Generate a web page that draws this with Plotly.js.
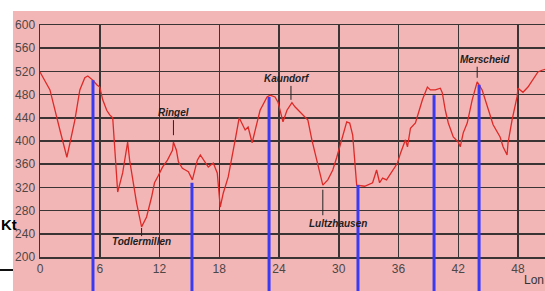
<!DOCTYPE html>
<html>
<head>
<meta charset="utf-8">
<script src="https://cdn.plot.ly/plotly-3.0.1.min.js"></script>
<style>
  html, body { margin: 0; padding: 0; background: #ffffff; overflow: hidden; }
  #chart { width: 545px; height: 291px; }
</style>
</head>
<body>
<div id="chart"></div>
<script>
// Elevation profile: distance (km) and elevation (m)
const dist = [0.0,1.0,2.0,2.7,3.5,4.0,4.5,4.8,5.3,5.7,6.0,6.3,6.7,7.0,7.3,7.8,8.3,8.7,8.8,9.0,9.3,9.7,10.2,10.7,11.2,11.5,11.9,12.3,12.8,13.3,13.4,13.7,13.9,14.3,14.6,14.9,15.3,15.8,16.1,16.6,16.9,17.4,17.8,18.1,18.4,18.9,19.3,19.6,20.0,20.6,20.9,21.3,22.1,22.8,23.1,23.6,23.9,24.4,24.8,25.3,25.6,26.1,26.6,26.9,27.3,27.9,28.4,28.9,29.4,29.8,30.1,30.3,30.8,31.1,31.4,31.8,32.6,33.4,33.8,34.1,34.4,34.8,35.4,35.9,36.2,36.7,36.9,37.2,37.7,38.0,38.4,38.9,39.2,39.7,40.2,40.4,40.7,41.0,41.5,42.0,42.2,42.5,42.9,43.4,43.7,43.9,44.4,44.7,45.0,45.5,46.2,46.5,46.9,47.0,47.4,47.9,48.0,48.5,49.0,49.5,50.0,50.4,50.8];
const elev = [519,488,419,372,436,488,509,512,505,497,493,471,453,445,440,312,345,384,398,367,338,293,252,269,303,328,341,355,367,384,398,384,364,353,350,347,333,367,376,362,355,362,345,286,310,338,372,402,440,419,424,397,453,476,479,476,467,433,453,466,459,450,441,436,402,359,324,333,350,372,390,402,433,431,410,324,322,328,350,328,336,333,350,362,379,402,390,422,431,448,471,493,488,488,491,483,453,431,407,398,390,414,431,471,493,502,488,471,453,428,407,390,376,397,436,476,491,484,493,505,519,522,524];

// Blue marker lines (distance, elevation at top)
const markerDist = [5.32, 15.26, 23.0, 31.93, 39.57, 44.09];
const markerElev = [505, 328, 476, 324, 479, 497];

// Place names with their tick (km, from/to elevation) and label anchor
const placeNames = ['Todlermillen', 'Ringel', 'Kaundorf', 'Lultzhausen', 'Merscheid'];
const placeDist = [10.2, 13.4, 25.2, 28.4, 43.9];
const placeTickFrom = [250, 410, 471, 316, 509];
const placeTickTo = [236, 436, 495, 272, 528];
const placeLabelDist = [10.2, 13.4, 24.8, 29.9, 44.7];
const placeLabelElev = [227, 450, 507, 257, 541];

const xTicks = [0, 6, 12, 18, 24, 30, 36, 42, 48];
const yTicks = [200, 240, 280, 320, 360, 400, 440, 480, 520, 560, 600];

const gridColor = '#3b3434';
const pink = '#f3b6b7';

const shapes = [];
// pink background panel
shapes.push({type: 'rect', xref: 'paper', yref: 'paper', x0: -0.0535, x1: 1.1, y0: -0.3, y1: 1.0603,
  fillcolor: pink, line: {width: 0}, layer: 'below'});
// short black rule at left
shapes.push({type: 'line', xref: 'paper', yref: 'paper', x0: -0.09, x1: -0.0535, y0: -0.056, y1: -0.056,
  line: {color: '#111111', width: 2}});
// blue marker lines
markerDist.forEach((d, i) => {
  shapes.push({type: 'line', xref: 'x', yref: 'y', x0: d, x1: d, y0: markerElev[i], y1: 200,
    line: {color: '#3a3af2', width: 3}});
  shapes.push({type: 'line', xref: 'x', yref: 'paper', x0: d, x1: d, y0: 0, y1: -0.3,
    line: {color: '#3a3af2', width: 3}});
});
// place ticks
placeNames.forEach((n, i) => {
  shapes.push({type: 'line', xref: 'x', yref: 'y', x0: placeDist[i], x1: placeDist[i],
    y0: placeTickFrom[i], y1: placeTickTo[i], line: {color: '#222222', width: 1}});
});

const annotations = placeNames.map((n, i) => ({
  xref: 'x', yref: 'y', x: placeLabelDist[i], y: placeLabelElev[i], text: n, showarrow: false,
  xanchor: 'center', yanchor: 'middle',
  font: {family: 'Liberation Sans Narrow, Arial Narrow, sans-serif', size: 10, weight: 'bold', style: 'italic', color: '#1e1e1e'}
}));
annotations.push({xref: 'paper', yref: 'paper', x: -0.0792, y: 0.142, text: 'Kt', showarrow: false,
  xanchor: 'left', yanchor: 'middle', borderpad: 0,
  font: {family: 'Liberation Sans Narrow, Arial Narrow, sans-serif', size: 15, weight: 'bold', color: '#000000'}});
annotations.push({xref: 'paper', yref: 'paper', x: 0.955, y: -0.1, text: 'Lon', showarrow: false,
  xanchor: 'left', yanchor: 'middle',
  font: {family: 'Liberation Sans, Arial, sans-serif', size: 12, color: '#333333'}});

const trace = {
  x: dist, y: elev, type: 'scatter', mode: 'lines',
  line: {color: '#de2a26', width: 1.3},
  hoverinfo: 'skip'
};

const layout = {
  width: 545, height: 291,
  margin: {l: 40, r: 0, t: 25, b: 34, pad: 0},
  paper_bgcolor: '#ffffff',
  plot_bgcolor: pink,
  showlegend: false,
  xaxis: {
    range: [0, 50.71], tickvals: xTicks, ticktext: xTicks.map(String),
    showgrid: true, gridcolor: gridColor, gridwidth: 1.5,
    showline: true, linecolor: gridColor, linewidth: 1.5, mirror: true,
    zeroline: false, ticks: '',
    tickfont: {family: 'Liberation Sans, Arial, sans-serif', size: 12, color: '#4d4646'}
  },
  yaxis: {
    range: [200, 600], tickvals: yTicks, ticktext: yTicks.map(String),
    showgrid: true, gridcolor: gridColor, gridwidth: 1.5,
    showline: true, linecolor: gridColor, linewidth: 1.5,
    zeroline: false, ticks: '', ticklabelstandoff: 1,
    tickfont: {family: 'Liberation Sans, Arial, sans-serif', size: 12, color: '#4d4646'}
  },
  shapes: shapes,
  annotations: annotations
};

Plotly.newPlot('chart', [trace], layout, {displayModeBar: false, staticPlot: true});
</script>
</body>
</html>
